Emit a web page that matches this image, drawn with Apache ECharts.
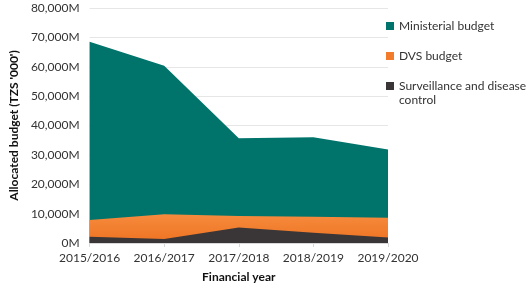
<!DOCTYPE html>
<html>
<head>
<meta charset="utf-8">
<script src="https://cdn.jsdelivr.net/npm/echarts@6/dist/echarts.min.js"></script>
<style>
html, body { margin: 0; padding: 0; background: #fff; }
#main { width: 529px; height: 288px; }
</style>
</head>
<body>
<div id="main"></div>
<script>
var years = ['2015/2016', '2016/2017', '2017/2018', '2018/2019', '2019/2020'];
var ministerial = [68500, 60300, 35700, 36000, 31800];
var dvs = [7800, 9800, 9200, 8900, 8600];
var surveillance = [2100, 1400, 5300, 3500, 1900];
var yTicks = [0, 10000, 20000, 30000, 40000, 50000, 60000, 70000, 80000];
var names = ['Ministerial budget', 'DVS budget', 'Surveillance and disease control'];
var colors = ['#00736b', '#f27b2c', '#3a3637'];

var myChart = echarts.init(document.getElementById('main'));
var font = 'Lato, "Open Sans", sans-serif';

function area(name, data, color) {
	return {
		name: name,
		type: 'line',
		data: data,
		symbol: 'none',
		lineStyle: { width: 0 },
		areaStyle: { color: color, opacity: 1 },
		itemStyle: { color: color },
		silent: true
	};
}

// one legend per entry so the rows sit where the reference has them
function leg(i, top) {
	return {
		left: 386,
		top: top,
		itemWidth: 8,
		itemHeight: 8,
		itemGap: 5,
		icon: 'rect',
		selectedMode: false,
		padding: 0,
		textStyle: { fontSize: 12, color: '#333', fontFamily: font },
		formatter: function (n) {
			return n == names[2] ? 'Surveillance and disease' : n;
		},
		data: [{ name: names[i], itemStyle: { color: colors[i] } }]
	};
}

var orange = new echarts.graphic.LinearGradient(0, 0, 0, 1, [
	{ offset: 0, color: '#f68b3d' },
	{ offset: 1, color: '#ee7222' }
]);

var option = {
	animation: false,
	textStyle: { fontFamily: font },
	grid: { left: 78, right: 141, top: 8, bottom: 45 },
	legend: [leg(0, 20), leg(1, 50), leg(2, 80)],
	graphic: [{
		type: 'text',
		left: 399,
		top: 94,
		style: { text: 'control', fontSize: 12, fill: '#333', fontFamily: font }
	}],
	xAxis: {
		type: 'category',
		data: years,
		boundaryGap: false,
		name: 'Financial year',
		nameLocation: 'middle',
		nameGap: 28,
		nameTextStyle: { fontWeight: 'bold', fontSize: 12, color: '#111' },
		axisLine: { lineStyle: { color: '#d9d9d9' } },
		axisTick: { show: true, length: 4, lineStyle: { color: '#d9d9d9' } },
		axisLabel: { fontSize: 12, color: '#333', margin: 9, interval: 0 }
	},
	yAxis: {
		type: 'value',
		min: yTicks[0],
		max: yTicks[yTicks.length - 1],
		interval: 10000,
		name: "Allocated budget (TZS '000')",
		nameLocation: 'middle',
		nameGap: 62,
		nameTextStyle: { fontWeight: 'bold', fontSize: 12, color: '#111' },
		axisLine: { show: false },
		axisTick: { show: false },
		splitLine: { lineStyle: { color: '#e6e6e6' } },
		axisLabel: {
			fontSize: 12, color: '#333', margin: 10,
			formatter: function (v) { return v.toLocaleString('en-US') + 'M'; }
		}
	},
	series: [
		area(names[0], ministerial, colors[0]),
		area(names[1], dvs, orange),
		area(names[2], surveillance, colors[2])
	]
};
myChart.setOption(option);
</script>
</body>
</html>
